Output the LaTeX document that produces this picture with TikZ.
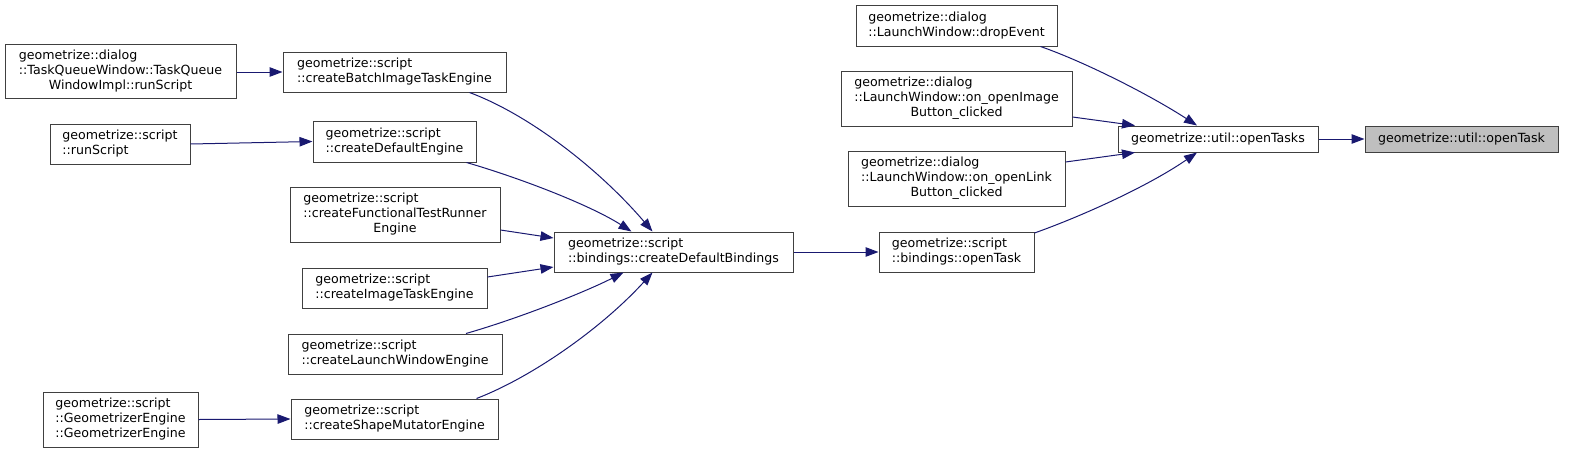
\documentclass[tikz,border=0pt]{standalone}
\usepackage{fontspec}
\setmainfont{DejaVu Sans}
\usetikzlibrary{arrows.meta}
\definecolor{edgeblue}{HTML}{191970}
\definecolor{boxborder}{HTML}{404040}
\definecolor{rootfill}{HTML}{BFBFBF}
\newcommand\twol[2]{\begin{tabular}{@{}l@{}}#1\\#2\end{tabular}}
\newcommand\threel[3]{\begin{tabular}{@{}l@{}}#1\\#2\\\multicolumn{1}{@{}c@{}}{#3}\end{tabular}}
\newcommand\threeleft[3]{\begin{tabular}{@{}l@{}}#1\\#2\\#3\end{tabular}}
\tikzset{
  fn/.style={draw=boxborder, line width=1pt, rectangle, inner sep=0pt,
    font=\fontsize{12.6}{15}\selectfont, fill=white},
  rootfn/.style={fn, fill=rootfill},
  call/.style={draw=edgeblue, line width=1pt, -{Triangle[length=13pt,width=9.5pt]}, edgeblue}
}
\begin{document}
\begin{tikzpicture}[x=1pt,y=-1pt]
\useasboundingbox (0,0) rectangle (1569,453);
% left column
\node[fn, minimum width=231pt, minimum height=54pt] (tq) at (120.5,71)
  {\threel{geometrize::dialog}{::TaskQueueWindow::TaskQueue}{WindowImpl::runScript}};
\node[fn, minimum width=140pt, minimum height=40pt] (run) at (120,144)
  {\twol{geometrize::script}{::runScript}};
\node[fn, minimum width=155pt, minimum height=55pt] (geng) at (120.5,419.5)
  {\threeleft{geometrize::script}{::GeometrizerEngine}{::GeometrizerEngine}};
% second column
\node[fn, minimum width=223pt, minimum height=40pt] (batch) at (394.5,72)
  {\twol{geometrize::script}{::createBatchImageTaskEngine}};
\node[fn, minimum width=163pt, minimum height=41pt] (defeng) at (394.5,141.5)
  {\twol{geometrize::script}{::createDefaultEngine}};
\node[fn, minimum width=210pt, minimum height=55pt] (func) at (395,214.5)
  {\threel{geometrize::script}{::createFunctionalTestRunner}{Engine}};
\node[fn, minimum width=185pt, minimum height=40pt] (imgt) at (394.5,288)
  {\twol{geometrize::script}{::createImageTaskEngine}};
\node[fn, minimum width=214pt, minimum height=40pt] (launch) at (395,354)
  {\twol{geometrize::script}{::createLaunchWindowEngine}};
\node[fn, minimum width=207pt, minimum height=40pt] (shape) at (394.5,419)
  {\twol{geometrize::script}{::createShapeMutatorEngine}};
% middle
\node[fn, minimum width=239pt, minimum height=40pt] (cdb) at (673.5,252)
  {\twol{geometrize::script}{::bindings::createDefaultBindings}};
\node[fn, minimum width=155pt, minimum height=40pt] (bopen) at (956.5,252)
  {\twol{geometrize::script}{::bindings::openTask}};
\node[fn, minimum width=201pt, minimum height=41pt] (drop) at (956.5,25.5)
  {\twol{geometrize::dialog}{::LaunchWindow::dropEvent}};
\node[fn, minimum width=231pt, minimum height=55pt] (img) at (956.5,98.5)
  {\threel{geometrize::dialog}{::LaunchWindow::on\_openImage}{Button\_clicked}};
\node[fn, minimum width=217pt, minimum height=55pt] (link) at (956.5,178.5)
  {\threel{geometrize::dialog}{::LaunchWindow::on\_openLink}{Button\_clicked}};
% right
\node[fn, minimum width=200pt, minimum height=26pt] (tasks) at (1218,139)
  {geometrize::util::openTasks};
\node[rootfn, minimum width=193pt, minimum height=26pt] (target) at (1461.5,139)
  {geometrize::util::openTask};
% edges
\draw[call] (tq.east |- batch.west) -- (batch.west);
\draw[call] (run.east) -- (defeng.west);
\draw[call] (geng.east) -- (shape.west);
\draw[call] ([xshift=75pt]batch.south) .. controls (530,115) and (600,170) .. ([xshift=-21pt]cdb.north);
\draw[call] ([xshift=72pt]defeng.south) .. controls (520,178) and (590,205) .. ([xshift=-42pt]cdb.north);
\draw[call] ([yshift=-15.5pt]func.east) -- ([yshift=14pt]cdb.west);
\draw[call] ([yshift=11pt]imgt.east) -- ([yshift=-15pt]cdb.west);
\draw[call] ([xshift=71pt]launch.north) .. controls (520,318) and (585,292) .. ([xshift=-50pt]cdb.south);
\draw[call] ([xshift=82pt]shape.north) .. controls (530,378) and (600,330) .. ([xshift=-21pt]cdb.south);
\draw[call] (cdb.east) -- (bopen.west);
\draw[call] ([yshift=19pt]bopen.east) .. controls (1085,215) and (1150,185) .. ([xshift=-21pt]tasks.south);
\draw[call] ([xshift=84pt]drop.south) .. controls (1085,62) and (1150,95) .. ([xshift=-21pt]tasks.north);
\draw[call] ([yshift=-18.5pt]img.east) -- ([xshift=-83pt]tasks.north);
\draw[call] ([yshift=16.5pt]link.east) -- ([xshift=-83pt]tasks.south);
\draw[call] (tasks.east) -- (target.west);
\end{tikzpicture}
\end{document}
